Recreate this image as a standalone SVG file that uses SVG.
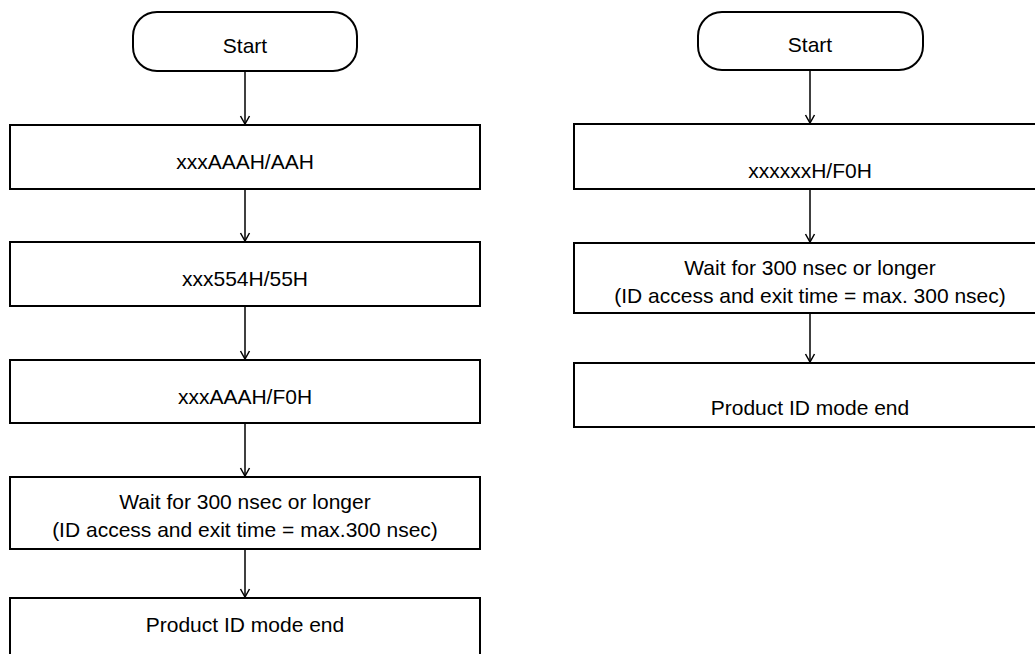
<svg xmlns="http://www.w3.org/2000/svg" width="1035" height="654" viewBox="0 0 1035 654">
<defs>
<style>
.n{fill:#fff;stroke:#000;stroke-width:2}
.t{font-family:"Liberation Sans",Arial,sans-serif;font-size:21px;fill:#000;text-anchor:middle}
.c{fill:none;stroke:#000;stroke-width:1.5;marker-end:url(#ah)}
</style>
<marker id="ah" markerUnits="userSpaceOnUse" markerWidth="12" markerHeight="12" viewBox="0 0 12 12" refX="11" refY="6" orient="auto">
<path d="M3,1.5 L11,6 L3,10.5" fill="none" stroke="#000" stroke-width="1.5"/>
</marker>
</defs>
<rect width="1035" height="654" fill="#fff"/>
<g id="connectors">
<line class="c" x1="245" y1="71" x2="245" y2="124"/>
<line class="c" x1="245" y1="189" x2="245" y2="241"/>
<line class="c" x1="245" y1="306" x2="245" y2="359"/>
<line class="c" x1="245" y1="423" x2="245" y2="476"/>
<line class="c" x1="245" y1="549" x2="245" y2="597"/>
<line class="c" x1="810" y1="70" x2="810" y2="123"/>
<line class="c" x1="810" y1="189" x2="810" y2="242"/>
<line class="c" x1="810" y1="313" x2="810" y2="362"/>
</g>
<g id="l-start">
<rect class="n" x="133" y="12" width="224" height="59" rx="24"/>
<text class="t" x="245" y="53">Start</text>
</g>
<g id="l-box1">
<rect class="n" x="10" y="125" width="470" height="64"/>
<text class="t" x="245" y="169">xxxAAAH/AAH</text>
</g>
<g id="l-box2">
<rect class="n" x="10" y="242" width="470" height="64"/>
<text class="t" x="245" y="286">xxx554H/55H</text>
</g>
<g id="l-box3">
<rect class="n" x="10" y="360" width="470" height="63"/>
<text class="t" x="245" y="404">xxxAAAH/F0H</text>
</g>
<g id="l-box4">
<rect class="n" x="10" y="477" width="470" height="72"/>
<text class="t" x="245" y="509">Wait for 300 nsec or longer</text>
<text class="t" x="245" y="537">(ID access and exit time = max.300 nsec)</text>
</g>
<g id="l-box5">
<rect class="n" x="10" y="598" width="470" height="66"/>
<text class="t" x="245" y="632">Product ID mode end</text>
</g>
<g id="r-start">
<rect class="n" x="698" y="12" width="225" height="58" rx="24"/>
<text class="t" x="810" y="52">Start</text>
</g>
<g id="r-box1">
<rect class="n" x="574" y="124" width="472" height="65"/>
<text class="t" x="810" y="178">xxxxxxH/F0H</text>
</g>
<g id="r-box2">
<rect class="n" x="574" y="243" width="472" height="70"/>
<text class="t" x="810" y="275">Wait for 300 nsec or longer</text>
<text class="t" x="810" y="303">(ID access and exit time = max. 300 nsec)</text>
</g>
<g id="r-box3">
<rect class="n" x="574" y="363" width="472" height="64"/>
<text class="t" x="810" y="415">Product ID mode end</text>
</g>
</svg>
